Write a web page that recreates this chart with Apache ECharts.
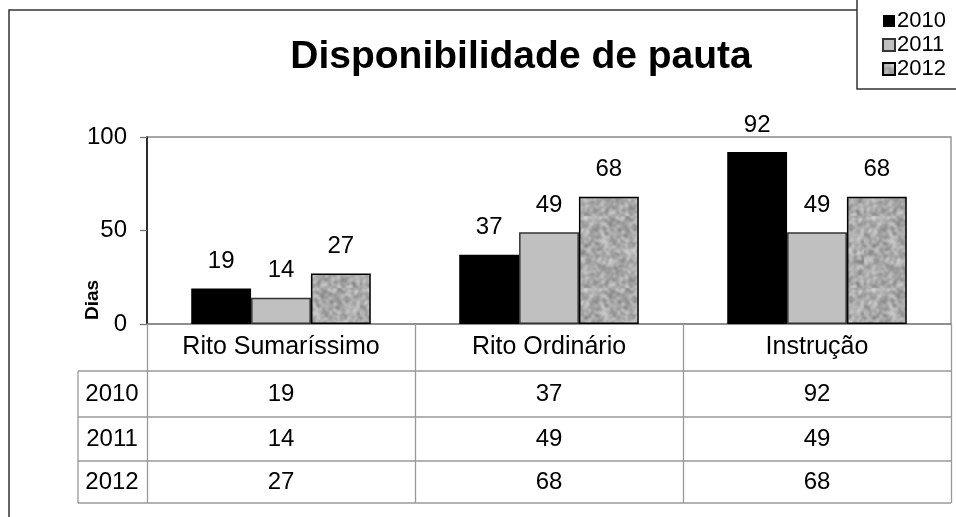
<!DOCTYPE html>
<html>
<head>
<meta charset="utf-8">
<script src="https://cdn.jsdelivr.net/npm/echarts@6/dist/echarts.min.js"></script>
<style>
  html, body { margin: 0; padding: 0; background: #fff; }
  #chart { width: 956px; height: 517px; }
</style>
</head>
<body>
<div id="chart"></div>
<script>
var categories = ['Rito Sumaríssimo', 'Rito Ordinário', 'Instrução'];
var seriesNames = ['2010', '2011', '2012'];
var values2010 = [19, 37, 92];
var values2011 = [14, 49, 49];
var values2012 = [27, 68, 68];
var yTicks = [0, 50, 100];

var allValues = [values2010, values2011, values2012];
var FONT = 'Liberation Sans, Arial, sans-serif';

// granite-like fill for the 2012 series (fixed seed so it looks the same each run)
function makeGranite() {
  var n = 36;
  var small = document.createElement('canvas');
  small.width = n; small.height = n;
  var sctx = small.getContext('2d');
  var img = sctx.createImageData(n, n);
  var seed = 4242;
  function rnd() { seed = (seed * 16807) % 2147483647; return seed / 2147483647; }
  for (var i = 0; i < n * n; i++) {
    var v = Math.round(115 + rnd() * 110);
    img.data[i * 4] = v; img.data[i * 4 + 1] = v; img.data[i * 4 + 2] = v; img.data[i * 4 + 3] = 255;
  }
  sctx.putImageData(img, 0, 0);
  var big = document.createElement('canvas');
  big.width = n * 2; big.height = n * 2;
  var bctx = big.getContext('2d');
  bctx.imageSmoothingEnabled = true;
  bctx.fillStyle = '#a8a8a8';
  bctx.fillRect(0, 0, n * 2, n * 2);
  bctx.filter = 'blur(0.9px)';
  bctx.drawImage(small, 0, 0, n * 2, n * 2);
  return big;
}
var granite = makeGranite();

var fills = ['#000000', '#c0c0c0', { image: granite, repeat: 'repeat' }];
var borders = ['#000000', '#333333', '#000000'];

var chart = echarts.init(document.getElementById('chart'));

var gridTop = 137, gridBottomY = 324, gridLeft = 147, gridRight = 951;
var rowCenters = [394, 439, 482];
var rowLines = [371, 417, 461, 503];

var series = seriesNames.map(function (name, k) {
  return {
    name: name,
    type: 'bar',
    xAxisIndex: 0,
    data: allValues[k],
    barGap: '0%',
    barCategoryGap: '33%',
    itemStyle: { color: fills[k], borderColor: borders[k], borderWidth: k === 0 ? 0 : 1.5 },
    label: {
      show: true, position: 'top', distance: 15,
      color: '#000', fontSize: 24, fontFamily: FONT
    }
  };
});

// extra bottom axes act as the data table rows
var xAxes = [{
  type: 'category',
  data: categories,
  position: 'bottom',
  axisLine: { lineStyle: { color: '#888', width: 1.5 } },
  axisTick: { show: true, interval: 0, length: rowLines[3] - gridBottomY, lineStyle: { color: '#999', width: 1.3 } },
  axisLabel: { interval: 0, margin: 23, verticalAlign: 'middle', color: '#000', fontSize: 25, fontFamily: FONT }
}];
allValues.forEach(function (vals, k) {
  xAxes.push({
    type: 'category',
    data: categories,
    position: 'bottom',
    offset: rowCenters[k] - gridBottomY,
    axisLine: { show: false },
    axisTick: { show: false },
    axisLabel: {
      interval: 0, margin: 0, verticalAlign: 'middle', color: '#000', fontSize: 24, fontFamily: FONT,
      formatter: function (v, i) { return String(vals[i]); }
    }
  });
});

var graphics = [
  { type: 'rect', shape: { x: 9, y: 10, width: 960, height: 520 }, style: { fill: 'none', stroke: '#333', lineWidth: 1.5 }, z: -10 },
  { type: 'rect', shape: { x: 857, y: -5, width: 110, height: 94 }, style: { fill: '#fff', stroke: '#333', lineWidth: 1.5 }, z: -5 },
  { type: 'text', x: 93, y: 300, rotation: Math.PI / 2, style: { text: 'Dias', font: 'bold 19px ' + FONT, fill: '#000', align: 'center', verticalAlign: 'middle' } },
  { type: 'line', shape: { x1: 78, y1: rowLines[0], x2: 78, y2: rowLines[3] }, style: { stroke: '#999', lineWidth: 1.3 } }
];
rowLines.forEach(function (y) {
  graphics.push({ type: 'line', shape: { x1: 78, y1: y, x2: gridRight, y2: y }, style: { stroke: '#999', lineWidth: 1.3 } });
});
seriesNames.forEach(function (name, k) {
  graphics.push({ type: 'text', x: 112, y: rowCenters[k], style: { text: name, font: '24px ' + FONT, fill: '#000', align: 'center', verticalAlign: 'middle' } });
});

chart.setOption({
  animation: false,
  backgroundColor: '#fff',
  title: {
    text: 'Disponibilidade de pauta',
    left: 516, top: 33, textAlign: 'center',
    textStyle: { fontSize: 39, fontWeight: 'bold', color: '#000', fontFamily: FONT }
  },
  legend: {
    orient: 'vertical',
    left: 877, top: 5,
    itemWidth: 12, itemHeight: 12, itemGap: 2,
    icon: 'rect',
    textStyle: { fontSize: 22, color: '#000', fontFamily: FONT, padding: [0, 0, 0, -3] },
    data: seriesNames
  },
  grid: {
    left: gridLeft, right: 956 - gridRight, top: gridTop, bottom: 517 - gridBottomY,
    show: true, borderColor: '#888', borderWidth: 1.3
  },
  xAxis: xAxes,
  yAxis: {
    type: 'value',
    min: yTicks[0], max: yTicks[yTicks.length - 1], interval: yTicks[1] - yTicks[0],
    axisLine: { show: true, lineStyle: { color: '#000', width: 1.5 } },
    axisTick: { show: true, length: 7, lineStyle: { color: '#777', width: 1.3 } },
    axisLabel: { margin: 20, color: '#000', fontSize: 24, fontFamily: FONT },
    splitLine: { show: false }
  },
  series: series,
  graphic: graphics
});
</script>
</body>
</html>
